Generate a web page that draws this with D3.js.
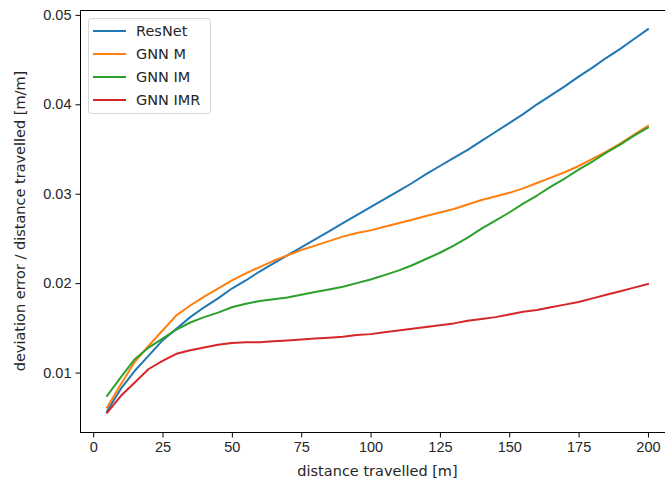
<!DOCTYPE html>
<html>
<head>
<meta charset="utf-8">
<script src="https://cdn.jsdelivr.net/npm/d3@7"></script>
<style>
  body { margin: 0; background: #fff; }
  svg { display: block; font-family: "DejaVu Sans", sans-serif; }
  .axis text { font-size: 14.5px; fill: #262626; }
  .axis path, .axis line { stroke: #000; stroke-width: 1; }
  .label { font-size: 14.5px; fill: #262626; }
  .line { fill: none; stroke-width: 2; stroke-linejoin: round; stroke-linecap: square; }
</style>
</head>
<body>
<div id="chart"></div>
<script>
var distances = [5, 10, 15, 20, 25, 30, 35, 40, 45, 50, 55, 60, 65, 70, 75, 80, 85, 90, 95, 100,
                 105, 110, 115, 120, 125, 130, 135, 140, 145, 150, 155, 160, 165, 170, 175, 180, 185, 190, 195, 200];

var resnet = [0.0057, 0.0082, 0.0102, 0.0119, 0.0136, 0.0149, 0.0162, 0.0173, 0.0183, 0.0194,
              0.0203, 0.0213, 0.0222, 0.0231, 0.0240, 0.0249, 0.0258, 0.0267, 0.0276, 0.0285,
              0.0294, 0.0303, 0.0312, 0.0322, 0.0331, 0.0340, 0.0349, 0.0359, 0.0369, 0.0379,
              0.0389, 0.0400, 0.0410, 0.0420, 0.0431, 0.0441, 0.0452, 0.0462, 0.0473, 0.0484];

var gnnM = [0.0061, 0.0087, 0.0112, 0.0130, 0.0147, 0.0164, 0.0175, 0.0185, 0.0194, 0.0203,
            0.0211, 0.0218, 0.0225, 0.0231, 0.0237, 0.0242, 0.0247, 0.0252, 0.0256, 0.0259,
            0.0263, 0.0267, 0.0271, 0.0275, 0.0279, 0.0283, 0.0288, 0.0293, 0.0297, 0.0301,
            0.0306, 0.0312, 0.0318, 0.0324, 0.0331, 0.0339, 0.0347, 0.0356, 0.0366, 0.0376];

var gnnIM = [0.0074, 0.0095, 0.0115, 0.0128, 0.0138, 0.0148, 0.0156, 0.0162, 0.0167, 0.0173,
             0.0177, 0.0180, 0.0182, 0.0184, 0.0187, 0.0190, 0.0193, 0.0196, 0.0200, 0.0204,
             0.0209, 0.0214, 0.0220, 0.0227, 0.0234, 0.0242, 0.0251, 0.0261, 0.0270, 0.0279,
             0.0289, 0.0298, 0.0308, 0.0317, 0.0327, 0.0336, 0.0346, 0.0355, 0.0365, 0.0374];

var gnnIMR = [0.0055, 0.0074, 0.0089, 0.0104, 0.0113, 0.0121, 0.0125, 0.0128, 0.0131, 0.0133,
              0.0134, 0.0134, 0.0135, 0.0136, 0.0137, 0.0138, 0.0139, 0.0140, 0.0142, 0.0143,
              0.0145, 0.0147, 0.0149, 0.0151, 0.0153, 0.0155, 0.0158, 0.0160, 0.0162, 0.0165,
              0.0168, 0.0170, 0.0173, 0.0176, 0.0179, 0.0183, 0.0187, 0.0191, 0.0195, 0.0199];

var seriesNames = ["ResNet", "GNN M", "GNN IM", "GNN IMR"];
var seriesColors = ["#1f77b4", "#ff7f0e", "#2ca02c", "#d62728"];

var xTicks = [0, 25, 50, 75, 100, 125, 150, 175, 200];
var yTicks = [0.01, 0.02, 0.03, 0.04, 0.05];

var series = [resnet, gnnM, gnnIM, gnnIMR].map(function (vals, i) {
  return {
    name: seriesNames[i],
    color: seriesColors[i],
    data: vals.map(function (v, j) { return [distances[j], v]; })
  };
});

var totalWidth = 665, totalHeight = 479;
var margin = {top: 10, left: 80};
var width = 595, height = 422;

// matplotlib style 5% padding around the data range
var xmin = d3.min(distances), xmax = d3.max(distances);
var allVals = [].concat(resnet, gnnM, gnnIM, gnnIMR);
var ymin = d3.min(allVals), ymax = d3.max(allVals);
var xpad = (xmax - xmin) * 0.05, ypad = (ymax - ymin) * 0.05;

var x = d3.scaleLinear()
    .domain([xmin - xpad, xmax + xpad])
    .range([0, width]);

var y = d3.scaleLinear()
    .domain([ymin - ypad, ymax + ypad])
    .range([height, 0]);

var line = d3.line()
    .x(function (d) { return x(d[0]); })
    .y(function (d) { return y(d[1]); });

var svg = d3.select("#chart").append("svg")
    .attr("width", totalWidth)
    .attr("height", totalHeight);

var g = svg.append("g")
    .attr("transform", "translate(" + margin.left + "," + margin.top + ")");

g.selectAll(".stream").data(series)
  .enter().append("path")
    .attr("class", "line")
    .style("stroke", function (d) { return d.color; })
    .attr("d", function (d) { return line(d.data); });

// spines
g.append("rect")
    .attr("x", 0.5).attr("y", 0.5)
    .attr("width", width).attr("height", height)
    .style("fill", "none")
    .style("stroke", "#000")
    .style("stroke-width", 1);

var xaxis = g.append("g")
    .attr("class", "x axis")
    .attr("transform", "translate(0," + (height + 0.5) + ")")
    .call(d3.axisBottom(x).tickValues(xTicks).tickSize(5).tickPadding(4).tickFormat(d3.format("d")));
xaxis.select(".domain").remove();

var yaxis = g.append("g")
    .attr("class", "y axis")
    .attr("transform", "translate(0.5,0)")
    .call(d3.axisLeft(y).tickValues(yTicks).tickSize(5).tickPadding(4).tickFormat(d3.format(".2f")));
yaxis.select(".domain").remove();

g.append("text")
    .attr("class", "label")
    .attr("text-anchor", "middle")
    .attr("x", 377.5 - margin.left)
    .attr("y", height + 44)
    .text("distance travelled [m]");

g.append("text")
    .attr("class", "label")
    .attr("text-anchor", "middle")
    .attr("transform", "translate(" + (25 - margin.left) + "," + (height / 2) + ") rotate(-90)")
    .text("deviation error / distance travelled [m/m]");

// legend
var legend = g.append("g")
    .attr("transform", "translate(8, 8)");

legend.append("rect")
    .attr("x", 0.5).attr("y", 0.5)
    .attr("width", 122).attr("height", 95)
    .attr("rx", 3)
    .style("fill", "#fff")
    .style("fill-opacity", 0.8)
    .style("stroke", "#d6d6d6")
    .style("stroke-width", 1);

var items = legend.selectAll(".item").data(series)
  .enter().append("g")
    .attr("class", "item")
    .attr("transform", function (d, i) { return "translate(0," + (13 + i * 23) + ")"; });

items.append("line")
    .attr("x1", 5).attr("x2", 38)
    .attr("y1", 0).attr("y2", 0)
    .style("stroke", function (d) { return d.color; })
    .style("stroke-width", 2);

items.append("text")
    .attr("class", "label")
    .attr("x", 48)
    .attr("dy", "0.35em")
    .text(function (d) { return d.name; });
</script>
</body>
</html>
